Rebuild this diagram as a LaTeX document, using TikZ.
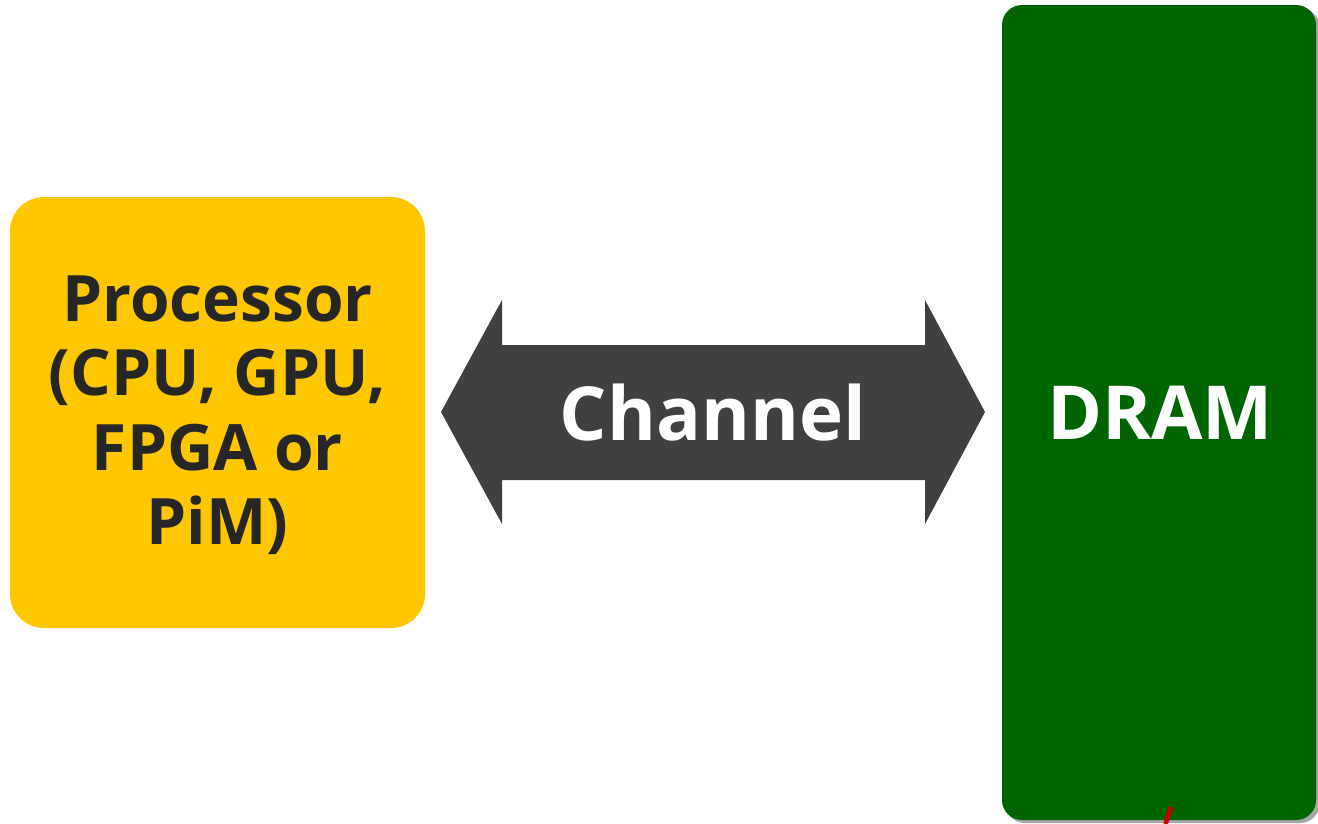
\documentclass[tikz,border=0pt]{standalone}
\usepackage{fontspec}
\setmainfont{Open Sans}
\definecolor{procyellow}{HTML}{FFC700}
\definecolor{dramgreen}{HTML}{006400}
\definecolor{chgray}{HTML}{404040}
\definecolor{txtdark}{HTML}{262626}
\definecolor{redmark}{HTML}{CC0000}
\begin{document}
\begin{tikzpicture}[x=1pt,y=-1pt,
  label/.style={font=\bfseries, inner sep=0pt, align=center}]
\useasboundingbox (0,0) rectangle (1318,823);
% processor block
\fill[procyellow, rounded corners=34pt] (10,197) rectangle (425,628);
\node[label, text=txtdark, font=\fontsize{64}{74.5}\bfseries] (proc) at (217.5,415)
  {Processor\\(CPU, GPU,\\FPGA or\\PiM)};
% memory block with its drop shadow
\fill[gray!70, rounded corners=20pt] (1005,8) rectangle (1320,823);
\fill[dramgreen, rounded corners=20pt] (1002,5) rectangle (1316,820);
\node[label, text=white, font=\fontsize{74.5}{80}\bfseries] (dram) at (1160,413) {DRAM};
% double-headed channel arrow
\fill[chgray] (441,412) -- (502,300) -- (502,345) -- (925,345) -- (925,300)
  -- (985,412) -- (925,524) -- (925,480) -- (502,480) -- (502,524) -- cycle;
\node[label, text=white, font=\fontsize{74.5}{80}\bfseries] (chan) at (713,413) {Channel};
% small red stroke under the memory block
\coordinate (r1) at (1171,807);
\coordinate (r2) at (1165.5,824);
\draw[redmark, line width=4.5pt] (r1) -- (r2);
\end{tikzpicture}
\end{document}
